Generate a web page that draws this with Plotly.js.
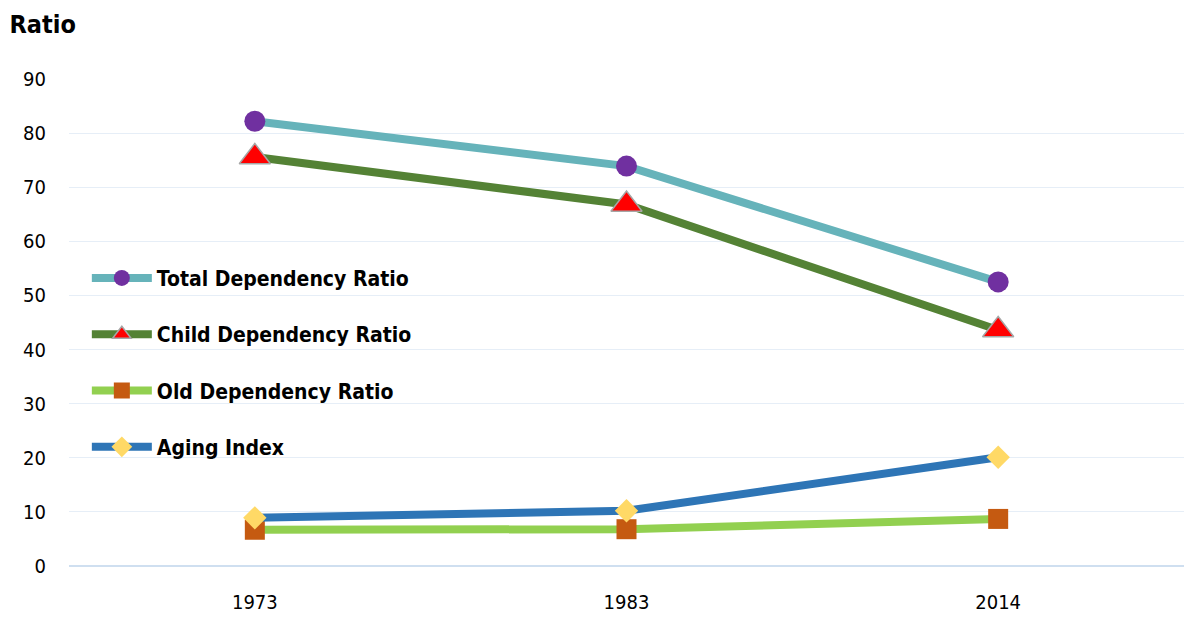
<!DOCTYPE html>
<html>
<head>
<meta charset="utf-8">
<script src="https://cdn.plot.ly/plotly-3.0.1.min.js"></script>
<style>html,body{margin:0;padding:0;background:#fff;}#chart{width:1187px;height:617px;}</style>
</head>
<body>
<div id="chart"></div>
<script>
const years = ["1973", "1983", "2014"];
const totalDependency = [82.2, 73.9, 52.5];
const childDependency = [75.6, 66.8, 43.6];
const oldDependency = [6.7, 6.8, 8.7];
const agingIndex = [8.9, 10.2, 20.1];
const yTicks = [0, 10, 20, 30, 40, 50, 60, 70, 80, 90];

const FONT = '"DejaVu Sans Condensed", "Liberation Sans Narrow", "Arial Narrow", sans-serif';

function tr(name, y, lineColor, symbol, mColor, mSize, outline, group) {
  return {
    type: 'scatter', mode: 'lines+markers', name: name, x: years, y: y,
    legendgroup: group,
    line: {color: lineColor, width: 8},
    marker: {symbol: symbol, color: mColor, size: mSize,
             line: outline ? {color: outline, width: 1.5} : {width: 0}}
  };
}

const data = [
  tr('Total Dependency Ratio', totalDependency, '#66b3ba', 'circle', '#7030a0', 21, null, 'a'),
  tr('Child Dependency Ratio', childDependency, '#548235', 'triangle-up', '#ff0000', 27, '#a6a6a6', 'b'),
  tr('Old Dependency Ratio', oldDependency, '#92d050', 'square', '#c55a11', 20, null, 'c'),
  tr('Aging Index', agingIndex, '#2e75b6', 'diamond', '#ffd966', 18, null, 'd')
];

const layout = {
  width: 1187, height: 617,
  margin: {l: 69, r: 3, t: 79, b: 51},
  paper_bgcolor: '#ffffff', plot_bgcolor: '#ffffff',
  font: {family: FONT, color: '#000000', size: 20},
  title: {text: '<b>Ratio</b>', x: 0.008, xanchor: 'left', y: 0.96, yanchor: 'middle',
          font: {family: FONT, size: 25, color: '#000'}},
  showlegend: true,
  legend: {x: 0.016, y: 0.633, xanchor: 'left', yanchor: 'top',
           font: {family: FONT, size: 21, color: '#000', weight: 'bold'},
           itemwidth: 60, tracegroupgap: 26, bgcolor: 'rgba(0,0,0,0)'},
  xaxis: {type: 'category', range: [-0.5, 2.5], showgrid: false, zeroline: false,
          showline: false, ticks: '', ticklabelstandoff: 22,
          tickfont: {family: FONT, size: 20, color: '#000'}, fixedrange: true},
  yaxis: {range: [0, 90], tickvals: yTicks, showgrid: true, gridcolor: '#e6eef7',
          gridwidth: 1, zeroline: true, zerolinecolor: '#cfdff0', zerolinewidth: 2,
          showline: false, ticks: '', ticklabelstandoff: 22,
          tickfont: {family: FONT, size: 20, color: '#000'}, fixedrange: true}
};

Plotly.newPlot('chart', data, layout, {displayModeBar: false, staticPlot: true});
</script>
</body>
</html>
